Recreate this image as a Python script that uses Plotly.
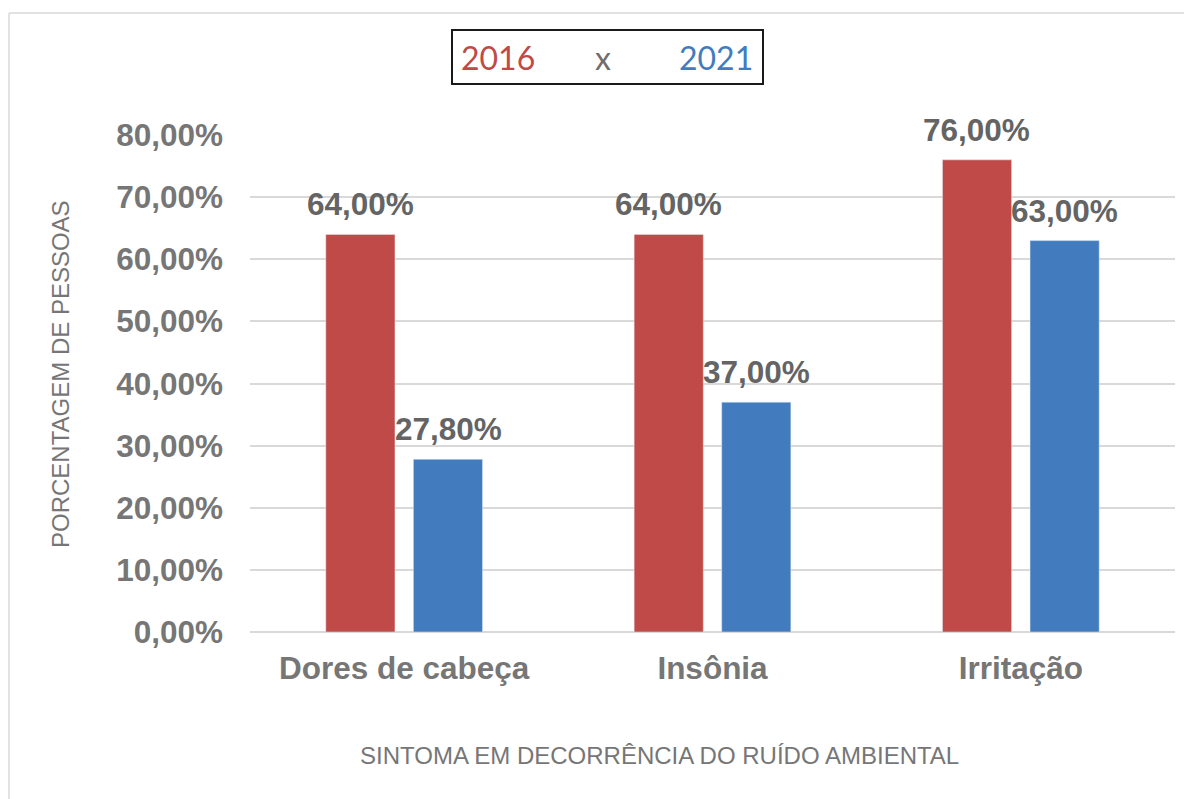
import plotly.graph_objects as go

categories = ["Dores de cabeça", "Insônia", "Irritação"]
values_2016 = [64.0, 64.0, 76.0]
values_2021 = [27.8, 37.0, 63.0]
series_names = ["2016", "2021"]
y_ticks = [0, 10, 20, 30, 40, 50, 60, 70, 80]
y_tick_labels = ["0,00%", "10,00%", "20,00%", "30,00%", "40,00%",
                 "50,00%", "60,00%", "70,00%", "80,00%"]

# page body has an 8px margin; work in screenshot pixels and convert
OFF = 8
W, H = 1192 - OFF, 799 - OFF
PL, PR, PT, PB = 250, 1175, 135, 632          # plot area in screenshot px
L, T = PL - OFF, PT - OFF
R, B = W - (PR - OFF), H - (PB - OFF)
PW, PH = PR - PL, PB - PT

def px(x):
    return (x - PL) / PW

def py(y):
    return (PB - y) / PH

RED = "#C04A47"
BLUE = "#427CBE"
TICK = "#767676"
LABEL = "#646464"
FONT = "Arial, Liberation Sans, sans-serif"
FS = 31.5

fig = go.Figure()
fig.add_trace(go.Bar(x=categories, y=values_2016, name=series_names[0], marker_color=RED))
fig.add_trace(go.Bar(x=categories, y=values_2021, name=series_names[1], marker_color=BLUE))

# value labels above bars
for vals, shift in [(values_2016, -44), (values_2021, 44)]:
    for c, v in zip(categories, vals):
        fig.add_annotation(x=c, y=v, xref="x", yref="y", xshift=shift, yshift=10,
                           text=f"{v:.2f}%".replace(".", ","), showarrow=False,
                           xanchor="center", yanchor="bottom",
                           font=dict(family=FONT, size=FS, color=LABEL, weight="bold"))

fig.update_layout(
    width=W, height=H,
    margin=dict(l=L, r=R, t=T, b=B, autoexpand=False),
    paper_bgcolor="white", plot_bgcolor="white",
    showlegend=False,
    barmode="group", bargap=0.432, bargroupgap=0.21,
    font=dict(family=FONT, color=TICK),
)
fig.update_yaxes(
    range=[0, 80], tickvals=y_ticks, ticktext=y_tick_labels,
    showgrid=True, gridcolor="#D9D9D9", gridwidth=1.5,
    zeroline=True, zerolinecolor="#D9D9D9", zerolinewidth=1.5,
    showline=False, ticks="",
    tickfont=dict(family=FONT, size=FS, color=TICK, weight="bold"),
    ticklabelstandoff=26,
)
fig.update_xaxes(
    showline=False, ticks="", showgrid=False,
    tickfont=dict(family=FONT, size=FS, color=TICK, weight="bold"),
    ticklabelstandoff=14,
)

# chart area border (left & top)
fig.add_shape(type="line", xref="paper", yref="paper",
              x0=px(9), y0=py(13), x1=px(9), y1=py(820),
              line=dict(color="#D9D9D9", width=1.5))
fig.add_shape(type="line", xref="paper", yref="paper",
              x0=px(9), y0=py(13), x1=px(1210), y1=py(13),
              line=dict(color="#D9D9D9", width=1.5))

# title box
fig.add_shape(type="rect", xref="paper", yref="paper",
              x0=px(452), y0=py(84), x1=px(763), y1=py(30),
              line=dict(color="#1a1a1a", width=2), fillcolor="white")
for txt, cx, col in [("2016", 498, RED), ("x", 603, "#6e6e6e"), ("2021", 716, BLUE)]:
    fig.add_annotation(xref="paper", yref="paper", x=px(cx), y=py(57),
                       text=txt, showarrow=False, xanchor="center", yanchor="middle",
                       font=dict(family="Lato, Open Sans, sans-serif", size=32, color=col))

# axis titles
fig.add_annotation(xref="paper", yref="paper", x=px(60), y=py(374),
                   text="PORCENTAGEM DE PESSOAS", textangle=-90, showarrow=False,
                   xanchor="center", yanchor="middle",
                   font=dict(family=FONT, size=24, color=TICK))
fig.add_annotation(xref="paper", yref="paper", x=px(659), y=py(755),
                   text="SINTOMA EM DECORRÊNCIA DO RUÍDO AMBIENTAL", showarrow=False,
                   xanchor="center", yanchor="middle",
                   font=dict(family=FONT, size=24, color=TICK))

fig.write_html("out.html")
